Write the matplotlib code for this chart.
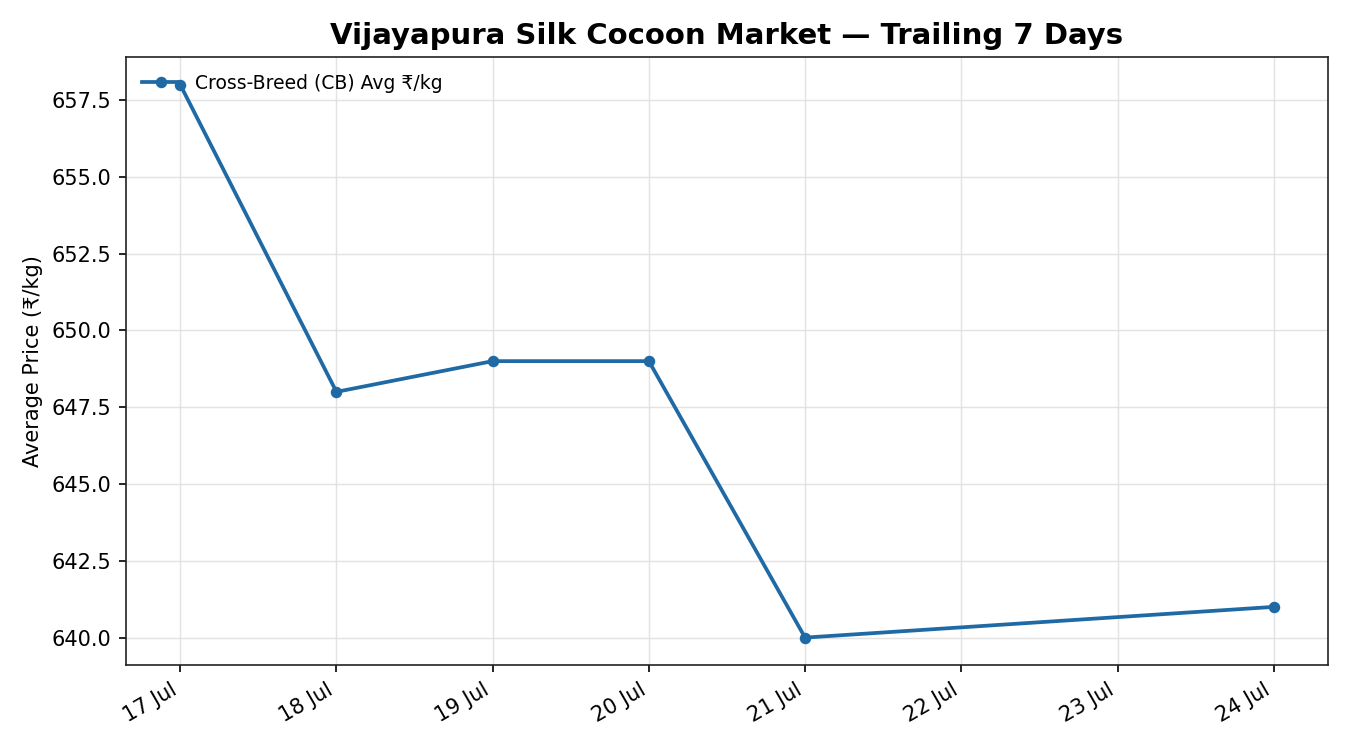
import matplotlib
matplotlib.use("Agg")
import matplotlib.pyplot as plt
import matplotlib.dates as mdates
import pandas as pd

dates = ["2025-07-17", "2025-07-18", "2025-07-19", "2025-07-20", "2025-07-21", "2025-07-24"]
prices = [658, 648, 649, 649, 640, 641]
series_label = "Cross-Breed (CB) Avg ₹/kg"
title = "Vijayapura Silk Cocoon Market — Trailing 7 Days"
ylabel = "Average Price (₹/kg)"

x = pd.to_datetime(dates)

fig, ax = plt.subplots(figsize=(9, 5), dpi=150)
ax.plot(x, prices, color="#1f6aa5", linewidth=1.8, marker="o", markersize=4.5, label=series_label)
ax.set_title(title, fontsize=14, fontweight="bold")
ax.set_ylabel(ylabel, fontsize=10)
ax.xaxis.set_major_locator(mdates.DayLocator())
ax.xaxis.set_major_formatter(mdates.DateFormatter("%d %b"))
ax.grid(True, color="#dddddd", linewidth=0.7, alpha=0.8)
ax.tick_params(labelsize=10)
for s in ax.spines.values():
    s.set_color("#222222")
ax.legend(loc="upper left", frameon=False, fontsize=9)
fig.autofmt_xdate(rotation=30, ha="right")
fig.subplots_adjust(left=0.093, right=0.984, top=0.924, bottom=0.113)
fig.savefig("out.png", dpi=150)
